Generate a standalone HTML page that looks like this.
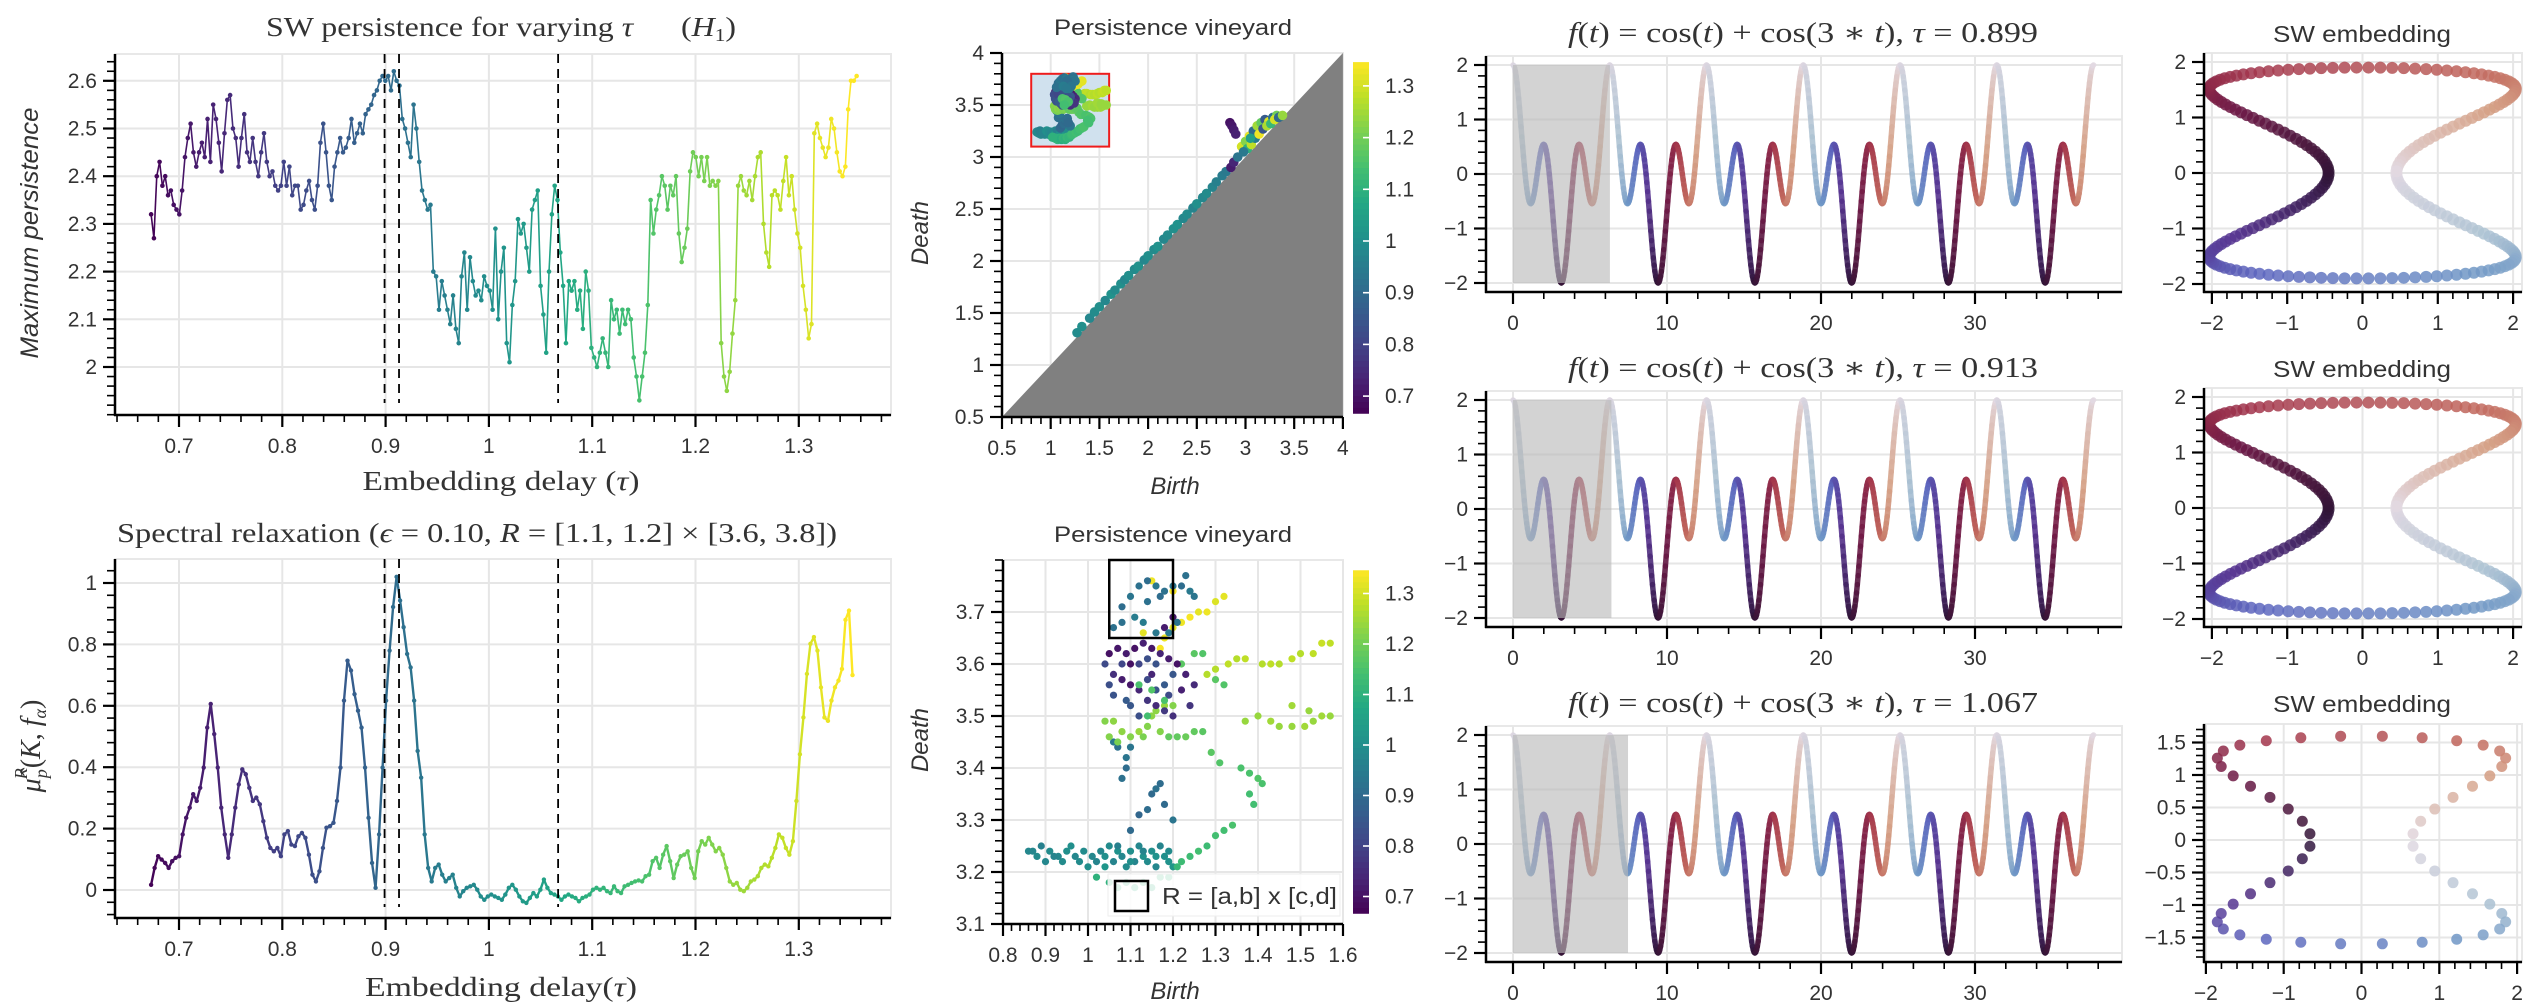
<!DOCTYPE html>
<html><head><meta charset="utf-8"><style>
html,body{margin:0;padding:0;background:#fff;}
svg{display:block;}
</style></head><body>
<svg id="fig" width="2530" height="1008" viewBox="0 0 2530 1008" xmlns="http://www.w3.org/2000/svg"></svg>
<script>
// ---------- DATA ----------
const persTauStart = 0.673, persTauEnd = 1.356;
const persValues = [2.32,2.27,2.40,2.43,2.38,2.40,2.36,2.37,2.34,2.33,2.32,2.37,2.44,2.48,2.51,2.45,2.42,2.45,2.47,2.44,2.52,2.43,2.55,2.52,2.47,2.41,2.49,2.56,2.57,2.50,2.48,2.42,2.48,2.53,2.45,2.43,2.48,2.43,2.40,2.45,2.49,2.43,2.40,2.41,2.38,2.37,2.38,2.43,2.38,2.42,2.36,2.38,2.38,2.33,2.34,2.37,2.39,2.35,2.33,2.38,2.47,2.51,2.45,2.38,2.35,2.42,2.45,2.48,2.45,2.46,2.48,2.52,2.47,2.49,2.51,2.49,2.53,2.54,2.55,2.57,2.58,2.60,2.61,2.60,2.61,2.58,2.62,2.60,2.59,2.52,2.50,2.47,2.44,2.55,2.50,2.43,2.37,2.35,2.33,2.34,2.20,2.19,2.12,2.18,2.15,2.12,2.09,2.15,2.08,2.05,2.19,2.24,2.12,2.23,2.18,2.15,2.16,2.14,2.19,2.17,2.16,2.12,2.29,2.10,2.20,2.25,2.05,2.01,2.13,2.18,2.31,2.28,2.30,2.25,2.20,2.33,2.35,2.37,2.17,2.11,2.03,2.20,2.32,2.38,2.35,2.24,2.17,2.05,2.18,2.16,2.18,2.12,2.16,2.08,2.20,2.16,2.04,2.02,2.00,2.03,2.06,2.03,2.00,2.14,2.10,2.12,2.07,2.12,2.09,2.12,2.10,2.02,1.98,1.93,1.98,2.03,2.13,2.35,2.28,2.33,2.36,2.40,2.38,2.33,2.38,2.36,2.40,2.28,2.22,2.25,2.29,2.41,2.45,2.44,2.40,2.44,2.39,2.44,2.38,2.39,2.38,2.39,2.05,1.98,1.95,1.99,2.07,2.14,2.38,2.40,2.37,2.36,2.39,2.35,2.40,2.44,2.45,2.30,2.24,2.21,2.36,2.37,2.36,2.33,2.39,2.44,2.36,2.40,2.33,2.28,2.25,2.17,2.12,2.06,2.09,2.49,2.51,2.48,2.46,2.44,2.46,2.52,2.50,2.45,2.41,2.40,2.42,2.54,2.60,2.60,2.61];
const specTauStart = 0.673, specTauEnd = 1.352;
const specValues = [0.017,0.072,0.110,0.099,0.088,0.072,0.094,0.105,0.110,0.181,0.235,0.268,0.312,0.290,0.333,0.399,0.529,0.606,0.508,0.399,0.268,0.181,0.105,0.181,0.268,0.344,0.393,0.377,0.333,0.290,0.301,0.279,0.224,0.170,0.137,0.126,0.137,0.110,0.181,0.192,0.148,0.143,0.175,0.186,0.170,0.115,0.050,0.028,0.061,0.137,0.203,0.208,0.219,0.290,0.399,0.617,0.747,0.715,0.638,0.584,0.529,0.399,0.235,0.088,0.007,0.181,0.399,0.617,0.780,0.922,1.020,0.943,0.856,0.769,0.725,0.617,0.453,0.366,0.181,0.072,0.028,0.072,0.083,0.050,0.028,0.039,0.050,0.007,-0.021,-0.004,0.007,0.012,0.017,0.001,-0.021,-0.032,-0.021,-0.015,-0.021,-0.026,-0.032,-0.015,0.007,0.017,0.001,-0.021,-0.037,-0.042,-0.026,-0.010,-0.021,0.001,0.034,0.007,-0.010,-0.015,-0.021,-0.032,-0.021,-0.015,-0.021,-0.026,-0.037,-0.026,-0.021,-0.015,0.001,0.007,0.001,0.007,-0.004,-0.010,0.012,-0.004,-0.010,0.012,0.017,0.023,0.028,0.031,0.028,0.045,0.050,0.094,0.105,0.072,0.115,0.143,0.094,0.039,0.083,0.110,0.115,0.126,0.072,0.039,0.126,0.159,0.148,0.170,0.148,0.126,0.137,0.115,0.072,0.028,0.017,0.023,0.001,-0.004,0.007,0.028,0.034,0.045,0.072,0.083,0.077,0.105,0.137,0.181,0.170,0.137,0.115,0.159,0.290,0.442,0.562,0.704,0.802,0.824,0.780,0.660,0.562,0.551,0.617,0.660,0.682,0.72,0.88,0.91,0.70];
const markedTaus = [0.899, 0.913, 1.067];
// vineyard points (birth, death, tau)
const vinBirth = [0.86,0.87,0.88,0.90,0.91,0.93,0.94,0.95,0.97,0.98,1.00,1.02,1.03,1.04,1.05,1.06,1.07,1.08,1.09,1.10,1.11,1.12,1.13,1.14,1.15,1.16,1.17,1.18,1.19,1.20,0.89,0.92,0.96,0.99,1.01,1.04,1.07,1.10,1.13,1.16,1.19,
1.05,1.07,1.09,1.11,1.13,1.15,1.17,1.19,1.21,1.02,
1.22,1.24,1.26,1.28,1.30,1.32,1.34,
1.10,1.12,1.14,1.15,1.16,1.17,1.20,1.18,1.08,1.09,1.09,1.07,1.06,1.10,
1.04,1.06,1.05,1.07,1.08,1.10,1.12,1.14,1.15,1.13,1.17,1.16,1.18,1.20,
1.19,1.21,1.23,1.25,1.27,1.29,1.31,
1.36,1.38,1.40,1.41,1.38,1.39,
1.37,1.40,1.43,1.45,1.48,1.51,1.53,1.55,1.57,1.48,1.52,
1.28,1.30,1.33,1.35,1.37,1.41,1.43,1.45,1.48,1.50,1.53,1.55,1.57,
1.22,1.25,1.27,1.30,1.32,
1.18,1.20,1.22,1.24,1.26,1.28,1.30,1.32,1.20,1.15,1.17,1.13,
1.05,1.07,1.09,1.11,1.13,1.15,1.17,1.19,1.21,1.23,1.25,1.06,1.08,1.10,1.12,1.14,1.16,1.18,1.20,1.22,1.24,1.10,1.15,1.18,1.20,
1.04,1.05,1.06,1.08,1.10,1.12,1.14,1.16,1.18,1.20,1.12,1.14,1.16,1.09,1.19,
1.08,1.08,1.10,1.12,1.14,1.16,1.18,1.20,1.22,1.23,1.24,1.25,1.11,1.14,1.17,1.19,1.21,1.06,1.13,1.16,
1.12,1.15,1.18,1.14,
1.27,1.32,1.40,1.45,1.50,1.56,1.62,1.66,1.72,1.76,1.80,1.86,1.90,1.96,2.00,2.06,2.10,2.16,2.20,2.26,2.30,2.36,2.40,2.46,2.50,2.56,2.60,2.66,2.70,2.76,2.80,
2.84,2.86,2.88,2.90,2.85,2.88,2.92,2.96,3.00,3.04,3.08,3.12,3.16,3.20,3.24,3.28,3.32,3.36,3.02,3.06,3.10,3.14,3.18,3.22,3.26,3.30,3.34,3.38,2.98,3.05];
const vinDeath = [3.24,3.24,3.23,3.22,3.24,3.23,3.22,3.24,3.23,3.22,3.21,3.22,3.24,3.23,3.25,3.22,3.24,3.23,3.21,3.24,3.22,3.25,3.23,3.22,3.24,3.21,3.25,3.23,3.22,3.21,3.25,3.23,3.25,3.24,3.23,3.21,3.25,3.22,3.24,3.23,3.24,
3.18,3.17,3.18,3.17,3.18,3.17,3.19,3.19,3.21,3.19,
3.22,3.23,3.24,3.25,3.27,3.28,3.29,
3.28,3.31,3.32,3.35,3.36,3.37,3.30,3.33,3.38,3.40,3.42,3.44,3.45,3.44,
3.49,3.49,3.46,3.45,3.47,3.46,3.47,3.48,3.50,3.46,3.47,3.51,3.52,3.52,
3.46,3.46,3.46,3.47,3.47,3.43,3.41,
3.40,3.39,3.38,3.37,3.35,3.33,
3.49,3.50,3.49,3.48,3.48,3.48,3.49,3.50,3.50,3.52,3.51,
3.58,3.59,3.60,3.61,3.61,3.60,3.60,3.60,3.61,3.62,3.62,3.64,3.64,
3.60,3.62,3.62,3.57,3.56,
3.65,3.67,3.68,3.69,3.70,3.70,3.72,3.73,3.74,3.76,3.63,3.66,
3.62,3.63,3.62,3.63,3.64,3.63,3.62,3.61,3.60,3.58,3.56,3.58,3.57,3.56,3.55,3.53,3.52,3.51,3.50,3.55,3.52,3.60,3.58,3.67,3.69,
3.60,3.56,3.54,3.60,3.52,3.50,3.57,3.55,3.56,3.58,3.60,3.61,3.60,3.53,3.54,
3.68,3.71,3.73,3.75,3.76,3.75,3.74,3.75,3.75,3.77,3.74,3.73,3.69,3.72,3.73,3.66,3.68,3.67,3.68,3.66,
3.56,3.55,3.53,3.50,
1.31,1.37,1.45,1.51,1.56,1.62,1.68,1.72,1.78,1.82,1.86,1.92,1.95,2.01,2.05,2.11,2.14,2.21,2.25,2.31,2.35,2.41,2.45,2.51,2.55,2.61,2.65,2.71,2.76,2.82,2.86,
3.33,3.30,3.26,3.22,2.90,2.95,3.00,3.10,3.15,3.20,3.25,3.30,3.33,3.36,3.34,3.38,3.40,3.39,3.08,3.12,3.18,3.22,3.27,3.30,3.32,3.36,3.38,3.40,3.05,3.18];
const vinTau = [0.98,0.98,0.99,0.98,0.99,0.98,0.99,1.00,0.98,0.99,1.00,0.97,0.98,1.00,0.99,0.97,1.01,0.98,0.99,1.00,0.97,0.98,1.01,0.99,1.00,0.98,0.97,1.00,1.01,1.02,0.96,0.97,1.00,0.99,0.98,1.02,0.96,1.00,0.97,1.01,0.99,
1.10,1.11,1.10,1.09,1.11,1.10,1.12,1.11,1.12,1.10,
1.13,1.13,1.14,1.13,1.14,1.14,1.15,
0.90,0.89,0.91,0.90,0.92,0.91,0.93,0.90,0.92,0.91,0.93,0.92,0.94,0.93,
1.22,1.23,1.22,1.21,1.23,1.22,1.24,1.22,1.23,1.21,1.22,1.23,1.24,1.22,
1.18,1.18,1.19,1.18,1.17,1.17,1.16,
1.15,1.15,1.16,1.15,1.14,1.14,
1.24,1.24,1.25,1.24,1.24,1.25,1.24,1.25,1.24,1.25,1.24,
1.27,1.27,1.28,1.27,1.28,1.27,1.28,1.27,1.28,1.27,1.28,1.29,1.28,
1.17,1.17,1.16,1.17,1.16,
1.33,1.32,1.33,1.34,1.32,1.33,1.31,1.32,1.34,1.33,1.34,1.32,
0.70,0.71,0.72,0.70,0.73,0.71,0.74,0.72,0.70,0.73,0.75,0.76,0.72,0.71,0.74,0.77,0.75,0.78,0.76,0.73,0.77,0.70,0.74,0.72,0.71,
0.82,0.83,0.84,0.81,0.85,0.83,0.82,0.84,0.86,0.85,0.81,0.83,0.84,0.86,0.82,
0.92,0.91,0.93,0.92,0.91,0.94,0.92,0.93,0.91,0.92,0.94,0.93,0.95,0.92,0.91,0.94,0.93,0.92,0.95,0.94,
1.15,1.16,1.15,1.14,
0.99,1.00,0.98,0.99,1.00,0.98,1.01,0.99,1.00,0.98,1.00,0.99,1.01,0.98,1.00,0.99,1.01,0.98,0.99,1.00,1.01,0.98,0.99,0.97,1.00,0.98,0.99,0.97,0.96,0.95,0.94,
0.70,0.71,0.72,0.73,0.72,0.74,0.93,1.30,1.22,1.32,0.90,1.25,1.18,0.86,1.31,0.92,1.20,0.88,1.10,1.28,0.95,1.33,0.85,1.26,1.12,1.30,0.90,1.24,0.94,1.05];
// sliding-window rows
const rowTaus = [0.899, 0.913, 1.067];
const rowWindowDim = 7;
const swPointCounts = [200, 200, 52];
const swMiddleX = [0.45, 0.45, 0.65];
const swOuterX = [1.6, 1.6, 1.6];
const swHeight = [1.9, 1.9, 1.6];
const swRadius = [6, 6, 5.5];
// colorbar
const cbMin = 0.667, cbMax = 1.346;
const cbTicks = [0.7, 0.8, 0.9, 1.0, 1.1, 1.2, 1.3];

// ---------- HELPERS ----------
const NS = 'http://www.w3.org/2000/svg';
const svg = document.getElementById('fig');
function mk(tag, attrs, parent){
  const e = document.createElementNS(NS, tag);
  for (const k in attrs) e.setAttribute(k, attrs[k]);
  (parent || svg).appendChild(e);
  return e;
}
const VIR = ['#440154','#482475','#414487','#355f8d','#2a788e','#21918c','#22a884','#44bf70','#7ad151','#bddf26','#fde725'];
const TWI = ['#e2d9e2','#aec3d3','#7098c6','#5d65be','#56338f','#2f1436','#6c1845','#a2354c','#c0665c','#d5a085','#e2d9e2'];
function hex(c){return [parseInt(c.slice(1,3),16),parseInt(c.slice(3,5),16),parseInt(c.slice(5,7),16)];}
function ramp(list, u){
  u = Math.max(0, Math.min(1, u));
  const p = u*(list.length-1), i = Math.min(list.length-2, Math.floor(p)), f = p-i;
  const a = hex(list[i]), b = hex(list[i+1]);
  return 'rgb('+a.map((v,k)=>Math.round(v+(b[k]-v)*f)).join(',')+')';
}
function viridis(t){return ramp(VIR, (t-cbMin)/(cbMax-cbMin));}
function twilight(u){return ramp(TWI, ((u%1)+1)%1);}
const SANS = '"Liberation Sans", "DejaVu Sans", sans-serif';
const SERIF = '"Liberation Serif", "DejaVu Serif", serif';
function text(x, y, s, o){
  o = o || {};
  const t = mk('text', {x:x, y:y, 'font-family':o.family||SANS, 'font-size':o.size||20, fill:o.fill||'#333',
    'text-anchor':o.anchor||'middle', 'font-style':o.style||'normal'});
  if (o.rotate) t.setAttribute('transform','rotate('+o.rotate+' '+x+' '+y+')');
  if (o.len){ t.setAttribute('textLength', o.len); t.setAttribute('lengthAdjust','spacingAndGlyphs'); }
  t.textContent = s;
  return t;
}
function fmt(v){ const r = Math.round(v*100)/100; return (r<0?'\u2212':'') + String(Math.abs(r)); }

function axes(o){
  const g = mk('g', {});
  
  
  const frame = mk('rect', {x:o.x0, y:o.y0, width:o.x1-o.x0, height:o.y1-o.y0, fill:'none', stroke:'#e8e8e8', 'stroke-width':2}, g);
  
  
  o.xTicks.forEach(v=>{
    const x = o.sx(v);
    const gl = mk('line', {x1:x, x2:x, y1:o.y0, y2:o.y1, stroke:'#e6e6e6', 'stroke-width':2}, g);
    
    
  });
  o.yTicks.forEach(v=>{
    const y = o.sy(v);
    const gl = mk('line', {x1:o.x0, x2:o.x1, y1:y, y2:y, stroke:'#e6e6e6', 'stroke-width':2}, g);
    
    
  });
  return g;
}
function spines(o){
  const g = mk('g', {});
  
  
  const sp1 = mk('line', {x1:o.x0, x2:o.x0, y1:o.y0, y2:o.y1+1, stroke:'#000', 'stroke-width':2.5}, g);
  
  
  const sp2 = mk('line', {x1:o.x0-1, x2:o.x1, y1:o.y1, y2:o.y1, stroke:'#000', 'stroke-width':2.5}, g);
  
  
  (o.xMinor||[]).forEach(v=>{ const x=o.sx(v); if(x<o.x0-0.5||x>o.x1+0.5) return;
    const t = mk('line', {x1:x,x2:x,y1:o.y1,y2:o.y1+7,stroke:'#000','stroke-width':1.6}, g);
    
     });
  (o.yMinor||[]).forEach(v=>{ const y=o.sy(v); if(y<o.y0-0.5||y>o.y1+0.5) return;
    const t = mk('line', {x1:o.x0-8,x2:o.x0,y1:y,y2:y,stroke:'#000','stroke-width':1.6}, g);
    
     });
  o.xTicks.forEach((v,i)=>{ const x=o.sx(v);
    const t = mk('line', {x1:x,x2:x,y1:o.y1,y2:o.y1+12,stroke:'#000','stroke-width':2.2}, g);
    
    
    const l = text(x, o.y1+38, o.xLabels ? o.xLabels[i] : fmt(v), {size:o.fs||21});
    
     });
  o.yTicks.forEach((v,i)=>{ const y=o.sy(v);
    const t = mk('line', {x1:o.x0-12,x2:o.x0,y1:y,y2:y,stroke:'#000','stroke-width':2.2}, g);
    
    
    const l = text(o.x0-18, y+7, o.yLabels ? o.yLabels[i] : fmt(v), {size:o.fs||21, anchor:'end'});
    
     });
}
function range(a, b, s){ const r=[]; for(let v=a; v<=b+s*0.01; v+=s) r.push(Math.round(v*1e6)/1e6); return r; }

// ---------- PANEL 1 ----------
(function(){
  const o = {name:'sw-persistence-plot', x0:115, x1:891, y0:54, y1:415,
    sx:t=>179+(t-0.7)*1033, sy:v=>367-(v-2)*477,
    xTicks:range(0.7,1.3,0.1), yTicks:range(2,2.6,0.1), xMinor:range(0.64,1.38,0.02), yMinor:range(1.9,2.66,0.02),
    xLabels:['0.7','0.8','0.9','1','1.1','1.2','1.3'], yLabels:['2','2.1','2.2','2.3','2.4','2.5','2.6']};
  axes(o);
  const n = persValues.length;
  const taus = persValues.map((v,i)=>persTauStart+(persTauEnd-persTauStart)*i/(n-1));
  const g = mk('g', {});
  
  
  for (let i=0;i<n-1;i++){
    const s = mk('line', {x1:o.sx(taus[i]), y1:o.sy(persValues[i]), x2:o.sx(taus[i+1]), y2:o.sy(persValues[i+1]), stroke:viridis(taus[i]), 'stroke-width':1.6}, g);
    
    
  }
  for (let i=0;i<n;i++){
    const c = mk('circle', {cx:o.sx(taus[i]), cy:o.sy(persValues[i]), r:2.3, fill:viridis(taus[i])}, g);
    
    
  }
  markedTaus.forEach(t=>{
    const d = mk('line', {x1:o.sx(t), x2:o.sx(t), y1:o.y0, y2:403, stroke:'#000', 'stroke-width':1.8, 'stroke-dasharray':'9,6'});
    
    
  });
  spines(o);
  const t = text(501, 36, '', {family:SERIF, size:27, len:470});
  t.innerHTML = 'SW persistence for varying <tspan font-style="italic">\u03C4</tspan>\u2003\u2002(<tspan font-style="italic">H</tspan><tspan font-size="18" dy="5">1</tspan><tspan dy="-5">)</tspan>';
  
  
  const xl = text(501, 490, '', {family:SERIF, size:27, len:277});
  xl.innerHTML = 'Embedding delay (<tspan font-style="italic">\u03C4</tspan>)';
  
  
  const yl = text(38, 233, 'Maximum persistence', {size:25, style:'italic', rotate:-90, len:251});
  
  
})();

// ---------- PANEL 2 ----------
(function(){
  const o = {name:'spectral-relaxation-plot', x0:115, x1:891, y0:559, y1:918,
    sx:t=>179+(t-0.7)*1033, sy:v=>890-v*307,
    xTicks:range(0.7,1.3,0.1), yTicks:range(0,1,0.2), xMinor:range(0.64,1.38,0.02), yMinor:range(-0.08,1.06,0.04),
    xLabels:['0.7','0.8','0.9','1','1.1','1.2','1.3'], yLabels:['0','0.2','0.4','0.6','0.8','1']};
  axes(o);
  const n = specValues.length;
  const taus = specValues.map((v,i)=>specTauStart+(specTauEnd-specTauStart)*i/(n-1));
  const g = mk('g', {});
  
  
  for (let i=0;i<n-1;i++){
    const s = mk('line', {x1:o.sx(taus[i]), y1:o.sy(specValues[i]), x2:o.sx(taus[i+1]), y2:o.sy(specValues[i+1]), stroke:viridis(taus[i]), 'stroke-width':2.4, 'stroke-linecap':'round'}, g);
    
    
  }
  for (let i=0;i<n;i++){
    const c = mk('circle', {cx:o.sx(taus[i]), cy:o.sy(specValues[i]), r:2.2, fill:viridis(taus[i])}, g);
    
    
  }
  markedTaus.forEach(t=>{
    const d = mk('line', {x1:o.sx(t), x2:o.sx(t), y1:o.y0, y2:907, stroke:'#000', 'stroke-width':1.8, 'stroke-dasharray':'9,6'});
    
    
  });
  spines(o);
  const t = text(477, 542, '', {family:SERIF, size:27, len:720});
  t.innerHTML = 'Spectral relaxation (<tspan font-style="italic">\u03F5</tspan> = 0.10, <tspan font-style="italic">R</tspan> = [1.1, 1.2] \u00D7 [3.6, 3.8])';
  
  
  const xl = text(501, 996, '', {family:SERIF, size:27, len:272});
  xl.innerHTML = 'Embedding delay(<tspan font-style="italic">\u03C4</tspan>)';
  
  
  const yl = text(40, 746, '', {family:SERIF, size:28, rotate:-90});
  yl.innerHTML = '<tspan font-style="italic">\u03BC\u0302</tspan><tspan font-size="18" font-style="italic" dy="7">p</tspan><tspan font-size="18" font-style="italic" dx="-10" dy="-20">R</tspan><tspan dy="13">(</tspan><tspan font-style="italic">K</tspan>, <tspan font-style="italic">f</tspan><tspan font-size="18" font-style="italic" dy="6">\u03B1</tspan><tspan dy="-6">)</tspan>';
  
  
})();

// ---------- VINEYARDS ----------
function colorbar(name, x, sy){
  const g = mk('g', {});
  
  
  const steps = 60;
  for (let i=0;i<steps;i++){
    const a = cbMin+(cbMax-cbMin)*i/steps, b = cbMin+(cbMax-cbMin)*(i+1)/steps;
    const r = mk('rect', {x:x, y:sy(b), width:16, height:sy(a)-sy(b)+0.6, fill:viridis((a+b)/2)}, g);
    
    
  }
  cbTicks.forEach(v=>{
    const t = mk('line', {x1:x+10, x2:x+16, y1:sy(v), y2:sy(v), stroke:'#fff', 'stroke-width':1.6}, g);
    
    
    const l = text(x+32, sy(v)+7, fmt(v), {size:21, anchor:'start'});
    
    
  });
}
function vineDots(o, r, name){
  const g = mk('g', {});
  
  
  for (let i=0;i<vinBirth.length;i++){
    const x = o.sx(vinBirth[i]), y = o.sy(vinDeath[i]);
    if (x<o.x0-2||x>o.x1+2||y<o.y0-2||y>o.y1+2) continue;
    const c = mk('circle', {cx:x, cy:y, r:r, fill:viridis(vinTau[i])}, g);
    
    
  }
}
(function(){
  const o = {name:'vineyard-full-plot', x0:1002, x1:1343, y0:53, y1:417,
    sx:b=>1002+(b-0.5)*97.4, sy:d=>417-(d-0.5)*104,
    xTicks:range(0.5,4,0.5), yTicks:range(0.5,4,0.5), xMinor:range(0.5,4,0.1), yMinor:range(0.5,4,0.1),
    xLabels:['0.5','1','1.5','2','2.5','3','3.5','4'], yLabels:['0.5','1','1.5','2','2.5','3','3.5','4']};
  axes(o);
  const box = mk('rect', {x:o.sx(0.8), y:o.sy(3.8), width:o.sx(1.6)-o.sx(0.8), height:o.sy(3.1)-o.sy(3.8), fill:'#d0e1ee', stroke:'#ee1c1c', 'stroke-width':2});
  
  
  const tri = mk('polygon', {points:[o.sx(0.5),o.sy(0.5),o.sx(4),o.sy(4),o.sx(4),o.sy(0.5)].join(' '), fill:'#808080'});
  
  
  vineDots(o, 4.8, 'vineyard-points');
  spines(o);
  const t = text(1173, 35, 'Persistence vineyard', {size:22, len:238});
  
  
  const xl = text(1175, 494, 'Birth', {size:24, style:'italic'});
  
  
  const yl = text(928, 233, 'Death', {size:24, style:'italic', rotate:-90});
  
  
  colorbar('colorbar-top', 1353, v=>241-(v-1)*517);
})();
(function(){
  const o = {name:'vineyard-zoom-plot', x0:1003, x1:1343, y0:560, y1:924,
    sx:b=>1003+(b-0.8)*425, sy:d=>924-(d-3.1)*520,
    xTicks:range(0.8,1.6,0.1), yTicks:range(3.1,3.7,0.1), xMinor:range(0.8,1.6,0.02), yMinor:range(3.1,3.8,0.02),
    xLabels:['0.8','0.9','1','1.1','1.2','1.3','1.4','1.5','1.6'], yLabels:['3.1','3.2','3.3','3.4','3.5','3.6','3.7']};
  axes(o);
  vineDots(o, 3.6, 'vineyard-zoom-points');
  const rb = mk('rect', {x:o.sx(1.05), y:o.sy(3.8), width:o.sx(1.2)-o.sx(1.05), height:o.sy(3.65)-o.sy(3.8), fill:'none', stroke:'#000', 'stroke-width':2.5});
  
  
  spines(o);
  const lg = mk('g', {});
  
  
  const lb = mk('rect', {x:1108, y:874, width:232, height:42, fill:'#fff', 'fill-opacity':0.85, stroke:'#eee', 'stroke-width':1}, lg);
  
  
  const lp = mk('rect', {x:1115, y:881, width:33, height:30, fill:'none', stroke:'#000', 'stroke-width':2.5}, lg);
  
  
  const lt = text(1162, 904, 'R = [a,b] x [c,d]', {size:23, anchor:'start', len:175});
  
  
  const t = text(1173, 542, 'Persistence vineyard', {size:22, len:238});
  
  
  const xl = text(1175, 999, 'Birth', {size:24, style:'italic'});
  
  
  const yl = text(928, 740, 'Death', {size:24, style:'italic', rotate:-90});
  
  
  colorbar('colorbar-bottom', 1353, v=>745-(v-1)*505);
})();

// ---------- SIGNAL + SW ROWS ----------
rowTaus.forEach((tau, r)=>{
  const oy = r*335;
  const o = {name:'signal-plot-'+(r+1), x0:1486, x1:2122, y0:56+oy, y1:292+oy,
    sx:t=>1513+t*15.4, sy:v=>174+oy-v*54.5,
    xTicks:[0,10,20,30], yTicks:[-2,-1,0,1,2], xMinor:range(-1.6,39.5,2).map(v=>Math.round(v/2)*2), yMinor:range(-2.2,2.2,0.2)};
  axes(o);
  const g = mk('g', {});
  
  
  const T = 12*Math.PI, N = 720;
  let px = null, py = null;
  for (let i=0;i<=N;i++){
    const t = T*i/N, v = Math.cos(t)+Math.cos(3*t);
    const x = o.sx(t), y = o.sy(v);
    if (px!==null){
      const s = mk('line', {x1:px, y1:py, x2:x, y2:y, stroke:twilight(t/(2*Math.PI)), 'stroke-width':5.5, 'stroke-linecap':'round', 'stroke-opacity':0.9}, g);
      
      
    }
    px = x; py = y;
  }
  const win = mk('rect', {x:o.sx(0), y:o.sy(2), width:o.sx(rowWindowDim*tau)-o.sx(0), height:o.sy(-2)-o.sy(2), fill:'#b8b8b8', 'fill-opacity':0.62});
  
  
  spines(o);
  const tt = text(1803, 42+oy, '', {family:SERIF, size:28, len:470});
  tt.innerHTML = '<tspan font-style="italic">f</tspan>(<tspan font-style="italic">t</tspan>) = cos(<tspan font-style="italic">t</tspan>) + cos(3 \u2217 <tspan font-style="italic">t</tspan>), <tspan font-style="italic">\u03C4</tspan> = ' + tau.toFixed(3);
  
  

  const small = r===2;
  const q = {name:'sw-embedding-plot-'+(r+1), x0:2204, x1:2522, y0:53+oy, y1:292+oy,
    sx: small ? (x=>2361.5+x*77.8) : (x=>2362.5+x*75.3),
    sy: small ? (y=>840-y*65) : (y=>173+oy-y*55.5),
    xTicks:[-2,-1,0,1,2], yTicks: small ? [-1.5,-1,-0.5,0,0.5,1,1.5] : [-2,-1,0,1,2],
    xMinor:range(-2,2,0.2), yMinor: small ? range(-1.8,1.8,0.1) : range(-2.2,2.2,0.2)};
  if (small){ q.y0 = 724; q.y1 = 962; }
  axes(q);
  const sg = mk('g', {});
  
  
  const M = swPointCounts[r], c1 = swOuterX[r], c3 = swMiddleX[r]-swOuterX[r];
  for (let i=0;i<M;i++){
    const th = 2*Math.PI*(i+0.5)/M;
    const x = c1*Math.cos(th)+c3*Math.cos(3*th), y = -swHeight[r]*Math.sin(th);
    const c = mk('circle', {cx:q.sx(x), cy:q.sy(y), r:swRadius[r], fill:twilight(th/(2*Math.PI)), 'fill-opacity':0.85}, sg);
    
    
  }
  spines(q);
  const st = text(2362, 42+oy, 'SW embedding', {size:23, len:178});
  
  
});
</script>
</body></html>
